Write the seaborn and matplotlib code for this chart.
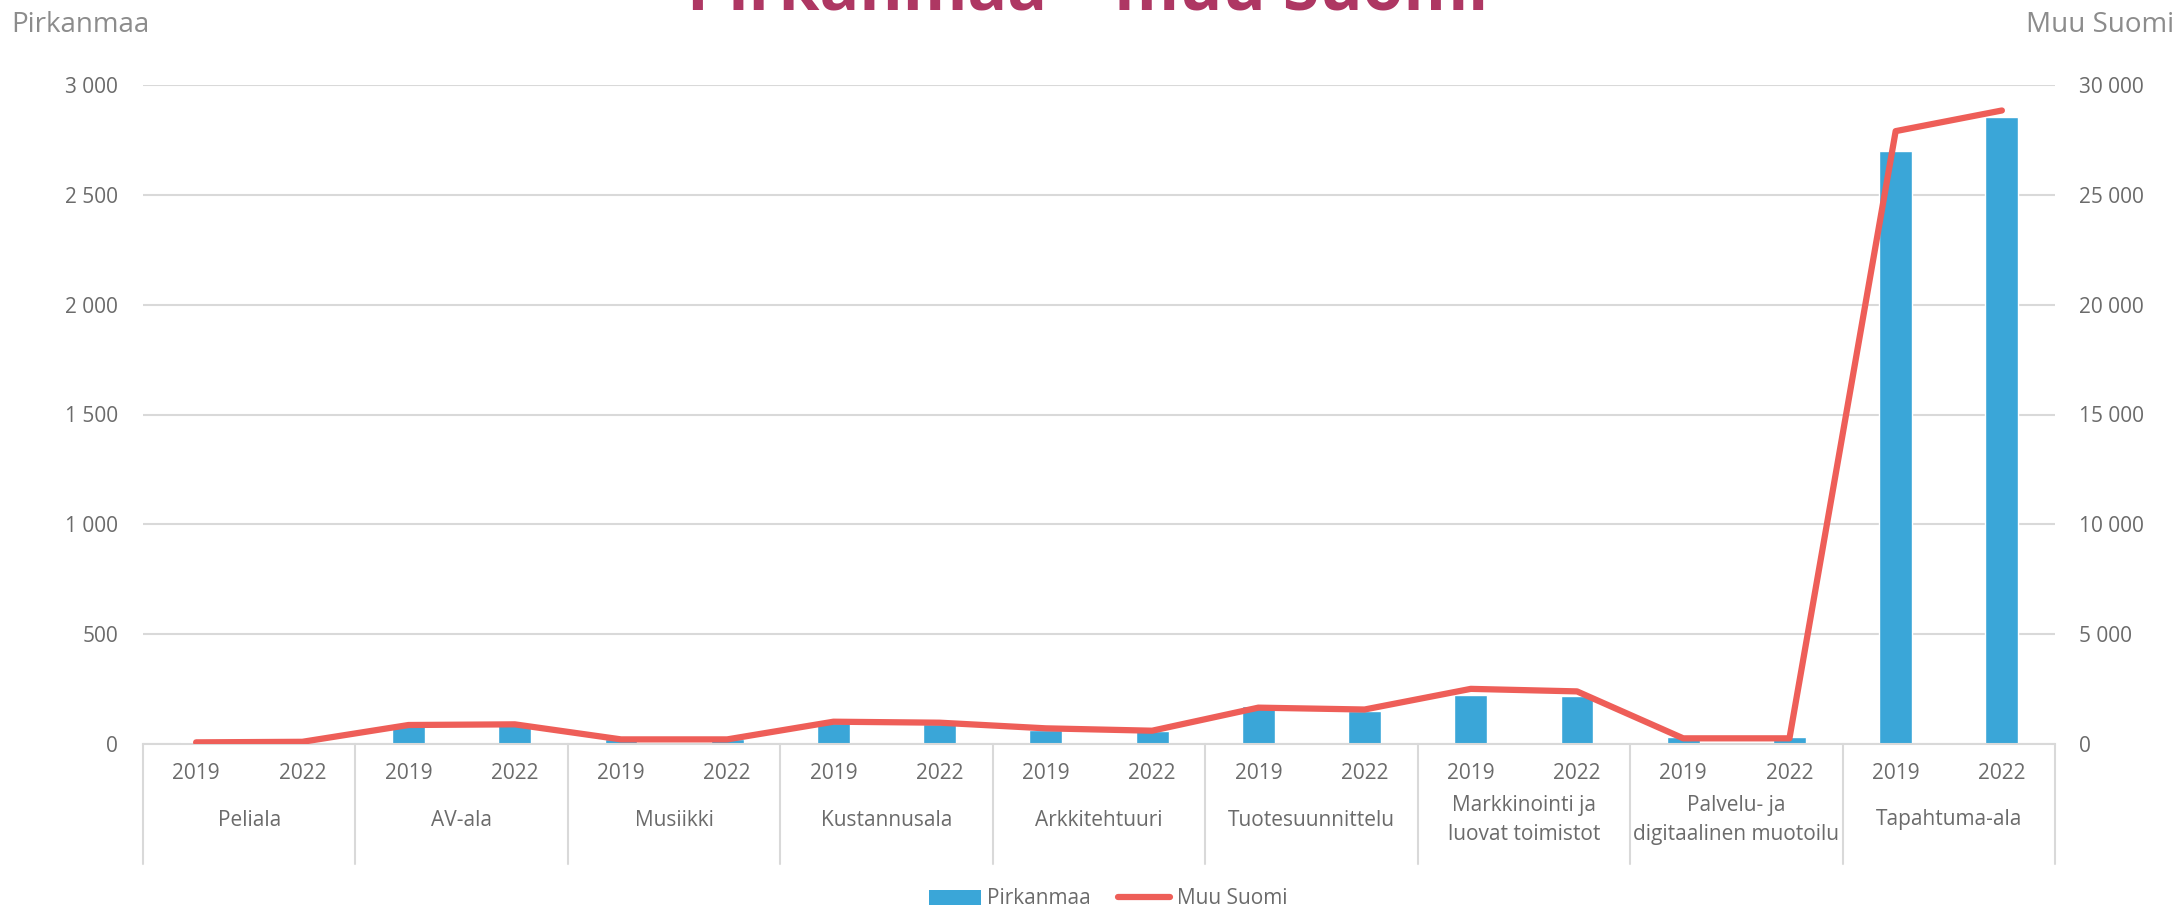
import pandas as pd
import matplotlib.pyplot as plt
import matplotlib.transforms as mtransforms
from matplotlib.patches import Patch
from matplotlib.lines import Line2D
import seaborn as sns

# Data
toimialat = ["Peliala", "AV-ala", "Musiikki", "Kustannusala", "Arkkitehtuuri",
             "Tuotesuunnittelu", "Markkinointi ja\nluovat toimistot",
             "Palvelu- ja\ndigitaalinen muotoilu", "Tapahtuma-ala"]
vuodet = ["2019", "2022"]
pirkanmaa = [8, 9, 82, 86, 22, 22, 97, 92, 66, 58,
             174, 150, 223, 217, 31, 30, 2700, 2856]
muu_suomi = [75, 100, 865, 895, 210, 210, 1015, 970, 713, 605,
             1655, 1570, 2510, 2395, 258, 258, 27900, 28840]

rows = []
for i, ala in enumerate(toimialat):
    for j, v in enumerate(vuodet):
        k = i * 2 + j
        rows.append({"pos": k, "ala": ala, "vuosi": v,
                     "Pirkanmaa": pirkanmaa[k], "Muu Suomi": muu_suomi[k]})
df = pd.DataFrame(rows)

sns.set_theme(style="white")
plt.rcParams['font.family'] = ['Open Sans', 'DejaVu Sans']

bar_color = "#3AA6D8"
line_color = "#EE5E58"
text_color = "#6b6b6b"
grid_color = "#d9d9d9"

fig = plt.figure(figsize=(21.77, 9.11), dpi=100)
ax = fig.add_axes([143 / 2177, 1 - 744 / 911, (2055 - 143) / 2177, (744 - 85) / 911])

sns.barplot(data=df, x="pos", y="Pirkanmaa", color=bar_color, width=0.31,
            saturation=1, ax=ax, order=list(range(len(df))))
ax.set_xlim(-0.5, len(df) - 0.5)
ax.set_ylim(0, 3000)
ax.set_yticks(range(0, 3001, 500))
ax.set_yticklabels([f"{v:,}".replace(",", " ") for v in range(0, 3001, 500)])
ax.yaxis.grid(True, color=grid_color, linewidth=1.5)
ax.set_axisbelow(True)
ax.set_xticks(range(len(df)))
ax.set_xticklabels(df["vuosi"])
ax.tick_params(axis="x", length=0, pad=14, labelsize=15, labelcolor=text_color)
ax.tick_params(axis="y", length=0, pad=18, labelsize=15, labelcolor=text_color)
ax.set_xlabel("")
ax.set_ylabel("")
for s in ["top", "left", "right"]:
    ax.spines[s].set_visible(False)
ax.spines["bottom"].set_color(grid_color)
ax.spines["bottom"].set_linewidth(1.5)

ax2 = ax.twinx()
sns.lineplot(data=df, x="pos", y="Muu Suomi", color=line_color, linewidth=4.5,
             ax=ax2, solid_capstyle="round")
ax2.set_xlim(-0.5, len(df) - 0.5)
ax2.set_ylim(0, 30000)
ax2.set_yticks(range(0, 30001, 5000))
ax2.set_yticklabels([f"{v:,}".replace(",", " ") for v in range(0, 30001, 5000)])
ax2.tick_params(axis="y", length=0, pad=17, labelsize=15, labelcolor=text_color)
ax2.set_ylabel("")
for s in ax2.spines.values():
    s.set_visible(False)

# Two-level category axis
trans = mtransforms.blended_transform_factory(ax.transData, ax.transAxes)
sep_bottom = -(864 - 744) / 659
for g in range(len(toimialat) + 1):
    x = g * 2 - 0.5
    ax.plot([x, x], [0, sep_bottom], transform=trans, color=grid_color,
            linewidth=1.5, clip_on=False)
for i, ala in enumerate(toimialat):
    ax.text(i * 2 + 0.5, -(820 - 744) / 659, ala, transform=trans,
            ha="center", va="center", fontsize=15, color=text_color,
            linespacing=1.55)

fig.text(0.4998, 1 - 10 / 911, "Pirkanmaa – muu Suomi", ha="center",
         va="baseline", fontsize=47.5, fontweight="bold", color="#AE3763")
fig.text(11 / 2177, 1 - 25 / 911, "Pirkanmaa", ha="left", va="center",
         fontsize=20, color="#8c8c8c")
fig.text(2174 / 2177, 1 - 25 / 911, "Muu Suomi", ha="right", va="center",
         fontsize=20, color="#8c8c8c")

handles = [Patch(facecolor=bar_color, edgecolor="none", label="Pirkanmaa"),
           Line2D([0], [0], color=line_color, linewidth=4.5,
                  solid_capstyle="round", label="Muu Suomi")]
fig.legend(handles=handles, loc="center", bbox_to_anchor=(0.509, 1 - 899 / 911),
           ncol=2, frameon=False, fontsize=15, labelcolor=text_color,
           handlelength=2.5, handletextpad=0.3, columnspacing=1.3,
           borderpad=0, borderaxespad=0)

plt.savefig("out.png", dpi=100)
plt.close()
